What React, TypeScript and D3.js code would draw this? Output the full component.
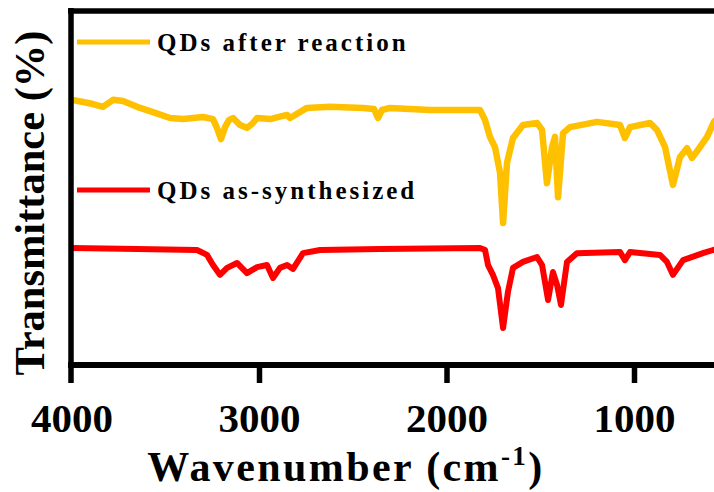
import React from "react";
import * as d3 from "d3";

// Wavenumber (cm-1) and transmittance (arbitrary %)
const afterWn = [4000, 3941, 3888, 3835, 3781, 3728, 3653, 3568, 3477, 3408, 3301, 3248, 3227, 3205, 3184, 3163, 3141, 3104, 3067, 3040, 3013, 2944, 2853, 2837, 2747, 2624, 2448, 2389, 2368, 2347, 2304, 2091, 1877, 1824, 1797, 1771, 1744, 1717, 1701, 1680, 1648, 1595, 1520, 1493, 1467, 1440, 1424, 1408, 1381, 1344, 1200, 1077, 1051, 1024, 917, 880, 837, 795, 757, 720, 693, 651, 613, 576, 544];
const afterT = [74.9, 74.3, 73.7, 72.9, 74.9, 74.6, 72.9, 71.4, 69.7, 69.4, 70.0, 69.4, 66.9, 63.7, 67.1, 69.1, 69.7, 67.7, 66.9, 68.0, 69.7, 69.4, 70.6, 69.7, 72.6, 72.9, 72.6, 72.3, 69.7, 72.0, 72.6, 72.0, 72.0, 72.0, 69.1, 64.3, 61.4, 54.0, 39.7, 56.9, 64.0, 67.7, 68.3, 66.3, 51.1, 61.4, 64.3, 47.1, 65.4, 67.1, 68.6, 67.7, 64.0, 67.1, 68.3, 66.3, 61.4, 50.6, 58.6, 61.1, 58.3, 61.4, 64.3, 68.6, 70.6];

const asSynWn = [4000, 3653, 3333, 3280, 3248, 3211, 3173, 3120, 3067, 3013, 2960, 2928, 2891, 2853, 2821, 2768, 2677, 2357, 1824, 1797, 1781, 1755, 1728, 1701, 1675, 1648, 1595, 1520, 1493, 1461, 1435, 1413, 1392, 1360, 1307, 1077, 1051, 1024, 864, 827, 795, 741, 635, 581, 544];
const asSynT = [32.6, 32.3, 32.0, 30.6, 27.7, 24.9, 26.9, 28.3, 25.4, 27.1, 27.7, 24.0, 26.9, 27.7, 26.6, 31.1, 32.0, 32.3, 32.6, 32.0, 27.7, 24.9, 21.1, 9.7, 20.0, 26.9, 28.6, 30.0, 27.7, 17.7, 25.7, 22.0, 16.3, 28.6, 31.1, 31.4, 29.1, 31.4, 30.6, 28.6, 24.9, 29.1, 31.1, 32.0, 32.3];

const xTicks = [4000, 3000, 2000, 1000];
const seriesNames = ["QDs after reaction", "QDs as-synthesized"];
const seriesColors = ["#FFC000", "#FF0000"];

const W = 714;
const H = 492;
const left = 71;
const top = 11;
const bottom = 365;
const font = "Liberation Serif";

export default function App() {
  const x = d3.scaleLinear().domain([4000, 400]).range([72, 72 + 3600 * 0.1875]);
  const y = d3.scaleLinear().domain([0, 100]).range([362, 12]);
  const line = d3
    .line<[number, number]>()
    .x((d) => x(d[0]))
    .y((d) => y(d[1]));
  const after = afterWn.map((w, i) => [w, afterT[i]] as [number, number]);
  const asSyn = asSynWn.map((w, i) => [w, asSynT[i]] as [number, number]);
  const txt = { fontFamily: font, fontWeight: 700 } as React.CSSProperties;

  return (
    <svg
      width={W}
      height={H}
      style={{ position: "absolute", left: 0, top: 0, display: "block", background: "#fff" }}
    >
      <defs>
        <clipPath id="plot">
          <rect x={left} y={top} width={W - left} height={bottom - top} />
        </clipPath>
      </defs>
      <g clipPath="url(#plot)">
        <path d={line(after) || ""} fill="none" stroke={seriesColors[0]} strokeWidth={6.5} strokeLinejoin="round" />
        <path d={line(asSyn) || ""} fill="none" stroke={seriesColors[1]} strokeWidth={6} strokeLinejoin="round" />
      </g>
      <line x1={left} x2={left} y1={8} y2={383} stroke="#000" strokeWidth={5.5} />
      <line x1={68} x2={W} y1={top} y2={top} stroke="#000" strokeWidth={5.5} />
      <line x1={68} x2={W} y1={bottom} y2={bottom} stroke="#000" strokeWidth={6} />
      {xTicks.map((t) => (
        <g key={t}>
          {t !== 4000 && (
            <line x1={x(t)} x2={x(t)} y1={bottom} y2={383} stroke="#000" strokeWidth={5.5} />
          )}
          <text x={x(t)} y={432} textAnchor="middle" style={{ ...txt, fontSize: 41 }} fill="#000">
            {t}
          </text>
        </g>
      ))}
      <text x={346} y={481} textAnchor="middle" style={{ ...txt, fontSize: 42, letterSpacing: 2.4 }} fill="#000">
        Wavenumber (cm
        <tspan style={{ fontSize: 27 }} dy={-16}>-1</tspan>
        <tspan dy={16}>)</tspan>
      </text>
      <text
        transform="translate(44,203) rotate(-90)"
        textAnchor="middle"
        style={{ ...txt, fontSize: 42.5 }}
        fill="#000"
      >
        Transmittance (%)
      </text>
      {[42, 190].map((ly, i) => (
        <g key={i}>
          <line x1={77} x2={150} y1={ly} y2={ly} stroke={seriesColors[i]} strokeWidth={5} />
          <text x={157} y={ly + 9} style={{ ...txt, fontSize: 25, letterSpacing: 3 }} fill="#000">
            {seriesNames[i]}
          </text>
        </g>
      ))}
    </svg>
  );
}
